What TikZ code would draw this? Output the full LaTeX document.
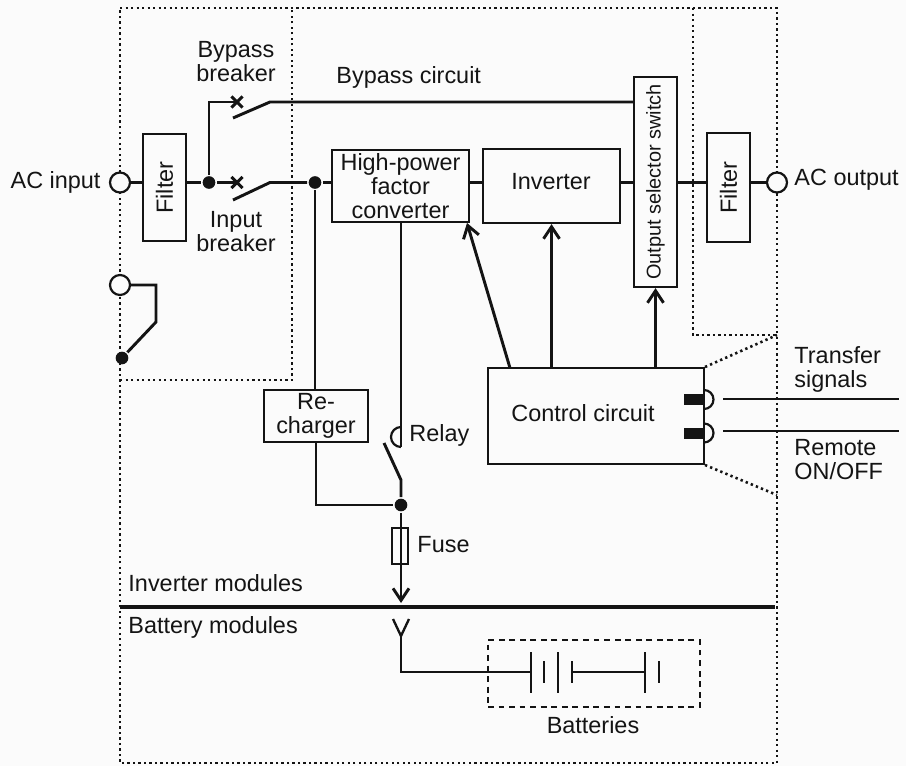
\documentclass[tikz,border=0pt]{standalone}
\usepackage{fontspec}
\setmainfont{Liberation Sans}
\usetikzlibrary{arrows.meta,shapes.misc}
\definecolor{paper}{gray}{0.985}
\definecolor{ink}{gray}{0.08}
\begin{document}
\begin{tikzpicture}[x=0.03cm,y=-0.03cm,color=ink,line width=2.5pt,>={Straight Barb[length=.36cm,width=.48cm]},
blockbox/.style={rectangle,draw,line width=1.9pt,inner sep=0pt,align=center,text=ink},
portcircle/.style={circle,draw,fill=paper,line width=1.9pt,minimum size=.6cm,inner sep=0pt},
joindot/.style={circle,fill=ink,minimum size=.38cm,inner sep=0pt},
contact/.style={cross out,draw,line width=2.6pt,minimum size=.24cm,inner sep=0pt},
dotline/.style={line width=2.2pt,dash pattern=on 2pt off 2.7pt},
plain label/.style={inner sep=0pt,align=center,text=ink},
left label/.style={inner sep=0pt,anchor=west,align=left,text=ink}]
\useasboundingbox[fill=paper] (0,0) rectangle (906,766);
\tikzset{every node/.append style={font=\fontsize{20}{20.5}\selectfont}}
%boundaries
\begin{scope}[dotline]
\coordinate (tl) at (120,8);
\coordinate (tr) at (777,8);
\coordinate (bl) at (120,763);
\coordinate (br) at (777,763);
\coordinate (bypasstop) at (292,8);
\coordinate (bypassbot) at (292,380);
\coordinate (bypassleft) at (120,380);
\coordinate (outtop) at (693,8);
\coordinate (outbot) at (693,335);
\coordinate (outright) at (777,335);
\coordinate (lowright) at (777,495);
\draw (tl) -- (tr) -- (br) -- (bl) -- cycle;
\draw (bypassleft) -- (bypassbot) -- (bypasstop);
\draw (outtop) -- (outbot) -- (outright);
\end{scope}
\coordinate (bus) at (0,182.5);
\coordinate (bypassbus) at (0,102);
%blocks
\node[blockbox,minimum width=1.29cm,minimum height=3.21cm] (filterin) at (164.5,187.5) {\rotatebox{90}{Filter}};
\node[blockbox,minimum width=4.11cm,minimum height=2.16cm] (conv) at (400.5,186) {High-power\\factor\\converter};
\node[blockbox,minimum width=4.11cm,minimum height=2.22cm] (inv) at (551.5,186) {};
\node[plain label] (invtext) at (551,182) {Inverter};
\node[blockbox,minimum width=1.29cm,minimum height=6.3cm,font=\fontsize{17}{17}\selectfont] (selector) at (655.5,182) {\rotatebox{90}{Output selector switch}};
\node[blockbox,minimum width=1.29cm,minimum height=3.27cm] (filterout) at (728.5,187.5) {\rotatebox{90}{Filter}};
\node[blockbox,fill=paper,minimum width=3.12cm,minimum height=1.56cm] (charger) at (316,416) {Re-\\charger};
\node[blockbox,minimum width=6.48cm,minimum height=2.88cm] (control) at (596,416) {};
\node[plain label] (controltext) at (583,413) {Control circuit};
%terminals
\node[portcircle] (acin) at (120,182.5) {};
\node[portcircle] (link) at (120,285) {};
\node[joindot] (linkdot) at (122,358) {};
\node[portcircle] (acout) at (777,182.5) {};
\node[joindot] (jbypass) at (209,182.5) {};
\node[joindot] (jconv) at (315,182.5) {};
\node[joindot] (jfuse) at (401,505) {};
\node[contact] (xbypass) at (237,102) {};
\node[contact] (xinput) at (237,182.5) {};
\coordinate (armbypass) at (233,118);
\coordinate (hingebypass) at (270,102);
\coordinate (arminput) at (233,200);
\coordinate (hingeinput) at (270,182.5);
\coordinate (linkbend) at (156,285);
\coordinate (linkelbow) at (156,322);
%bypass and main line
\draw (acin) edge (filterin.west |- bus);
\draw (filterin.east |- bus) -- (jbypass);
\draw (jbypass) -- (xinput.center);
\draw (jbypass) |- (xbypass.center);
\draw (armbypass) -- (hingebypass) -- (selector.west |- bypassbus);
\draw (arminput) -- (hingeinput) -- (jconv);
\draw (jconv) edge (conv.west |- bus);
\draw (conv.east |- bus) edge (inv.west |- bus);
\draw (inv.east |- bus) edge (selector.west |- bus);
\draw (selector.east |- bus) edge (filterout.west |- bus);
\draw (filterout.east |- bus) edge (acout);
\draw (link) -- (linkbend) -- (linkelbow) -- (linkdot);
%control lines
\coordinate (ctrlconv) at (510,368);
\coordinate (tipconv) at (467,223);
\draw[->] (ctrlconv) -- (tipconv);
\draw[->] (control.north -| inv.south) -- (inv.south);
\draw[->] (control.north -| selector.south) -- (selector.south);
\coordinate (cornerup) at (705,367);
\coordinate (cornerdown) at (705,465);
\draw[dotline] (cornerup) -- (outright);
\draw[dotline] (cornerdown) -- (lowright);
%signal ports
\node[rectangle,fill=ink,minimum width=.6cm,minimum height=.33cm,inner sep=0pt] (porta) at (694,399.5) {};
\node[rectangle,fill=ink,minimum width=.6cm,minimum height=.33cm,inner sep=0pt] (portb) at (694,433) {};
\draw[line width=1.9pt] (704,409) arc (90:-90:9.5);
\draw[line width=1.9pt] (704,442.5) arc (90:-90:9.5);
\coordinate (sigaL) at (723,399);
\coordinate (sigaR) at (899,399);
\coordinate (sigbL) at (723,431);
\coordinate (sigbR) at (899,431);
\draw (sigaL) -- (sigaR);
\draw (sigbL) -- (sigbR);
%relay, fuse, bus
\coordinate (relaytop) at (401,447);
\coordinate (relaybot) at (401,480);
\coordinate (relayarm) at (384,443);
\draw (conv.south -| relaytop) -- (relaytop);
\draw[line width=1.9pt] (401,447) arc (90:270:10);
\draw (relayarm) -- (relaybot) -- (jfuse);
\draw (charger.north -| jconv) -- (jconv);
\draw (charger.south) |- (jfuse);
\node[rectangle,draw,line width=1.6pt,minimum width=.48cm,minimum height=1.08cm,inner sep=0pt] (fuse) at (400,546) {};
\coordinate (tipfuse) at (401,603);
\draw[->] (jfuse) -- (tipfuse);
\coordinate (divleft) at (120,607);
\coordinate (divright) at (775,607);
\draw[line width=3.4pt] (divleft) -- (divright);
%battery
\coordinate (forkL) at (393,619);
\coordinate (forkR) at (409,619);
\coordinate (fork) at (401,636);
\coordinate (batbend) at (401,672);
\coordinate (cella) at (531,672);
\draw[line width=2pt] (forkL) -- (fork) -- (forkR);
\draw (fork) -- (batbend) -- (cella);
\node[rectangle,draw,line width=2pt,dash pattern=on 5pt off 4pt,minimum width=6.36cm,minimum height=2.01cm,inner sep=0pt] (batbox) at (594,673.5) {};
\draw (531,652) -- (531,693);
\draw (544,661) -- (544,683);
\draw (558,652) -- (558,693);
\draw (572,661) -- (572,683);
\coordinate (cellb) at (572,672);
\coordinate (cellc) at (645,672);
\draw (cellb) -- (cellc);
\draw (645,652) -- (645,693);
\draw (659,661) -- (659,683);
%labels
\node[inner sep=0pt,anchor=east,text=ink] (acinlabel) at (102,182) {AC input};
\node[left label] (acoutlabel) at (793,180) {AC output};
\node[plain label] (bypasslabel) at (236,62) {Bypass\\breaker};
\node[plain label] (inputlabel) at (236,232) {Input\\breaker};
\node[left label] (circuitlabel) at (335,77) {Bypass circuit};
\node[left label] (transferlabel) at (793,369) {Transfer\\signals};
\node[left label] (remotelabel) at (793,460) {Remote\\ON/OFF};
\node[left label] (relaylabel) at (408,435) {Relay};
\node[left label] (fuselabel) at (416,545) {Fuse};
\node[left label] (invmodlabel) at (127,583) {Inverter modules};
\node[left label] (batmodlabel) at (127,627) {Battery modules};
\node[plain label] (batterieslabel) at (593,725) {Batteries};
\end{tikzpicture}
\end{document}
